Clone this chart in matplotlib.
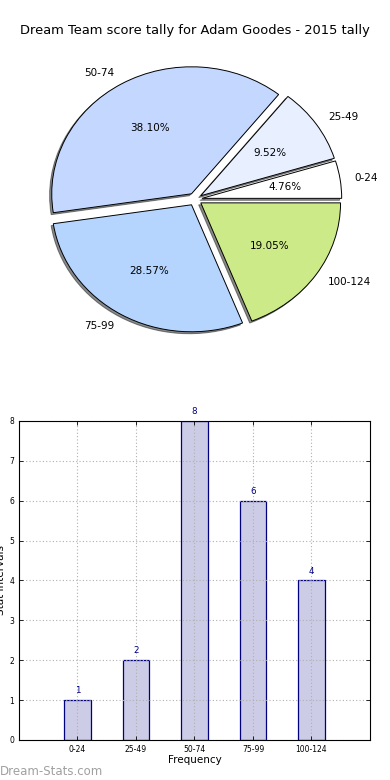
import matplotlib
matplotlib.use("Agg")
import matplotlib.pyplot as plt
import numpy as np

categories = ["0-24", "25-49", "50-74", "75-99", "100-124"]
counts = [1, 2, 8, 6, 4]
pie_colors = ["#ffffff", "#e8f0ff", "#c4d8ff", "#b5d5ff", "#ccea88"]
title = "Dream Team score tally for Adam Goodes - 2015 tally"

fig = plt.figure(figsize=(3.9, 7.8), dpi=100)
fig.text(0.5, 0.9615, title, ha="center", va="center", fontsize=9.4)

# Pie
axp = fig.add_axes([0.052, 0.541, 0.896, 0.407])
wedges, texts, autotexts = axp.pie(
    counts, labels=categories, colors=pie_colors, explode=[0.05] * 5,
    autopct="%.2f%%", shadow=dict(ox=-0.011, oy=-0.011, shade=0.9),
    startangle=0, labeldistance=1.1,
    pctdistance=0.6, wedgeprops=dict(edgecolor="black", linewidth=0.7),
    textprops=dict(fontsize=7.5))
axp.set_aspect("auto")
axp.set_xlim(-1.25, 1.25)
axp.set_ylim(-1.25, 1.25)

# Bar
axb = fig.add_axes([0.0487, 0.0513, 0.9, 0.409])
x = np.arange(len(categories))
axb.bar(x, counts, width=0.45, color="#ccccE6", edgecolor="#000080", linewidth=0.9, zorder=1)
for xi, c in zip(x, counts):
    axb.text(xi, c + 0.12, str(c), ha="center", va="bottom", fontsize=6.3, color="#000080")
axb.set_xlim(-1, 5)
axb.set_ylim(0, 8)
axb.set_xticks(x)
axb.set_xticklabels(categories, fontsize=5.5)
axb.set_yticks(range(0, 9))
axb.tick_params(axis="y", labelsize=5.5)
axb.tick_params(direction="in", top=True, right=True, length=3, width=0.6)
axb.set_axisbelow(False)
axb.grid(True, linestyle=(0, (1, 2)), color="#b0b0b0", linewidth=0.8, zorder=3)
axb.set_xlabel("Frequency", fontsize=7.5, labelpad=1)
axb.set_ylabel("Stat Intervals", fontsize=7.5, labelpad=2)
for s in axb.spines.values():
    s.set_linewidth(0.8)
    s.set_zorder(4)

fig.text(0.0, 0.0115, "Dream-Stats.com", ha="left", va="center", fontsize=8.5, color="#a0a0a0")

fig.savefig("out.png", dpi=100)
